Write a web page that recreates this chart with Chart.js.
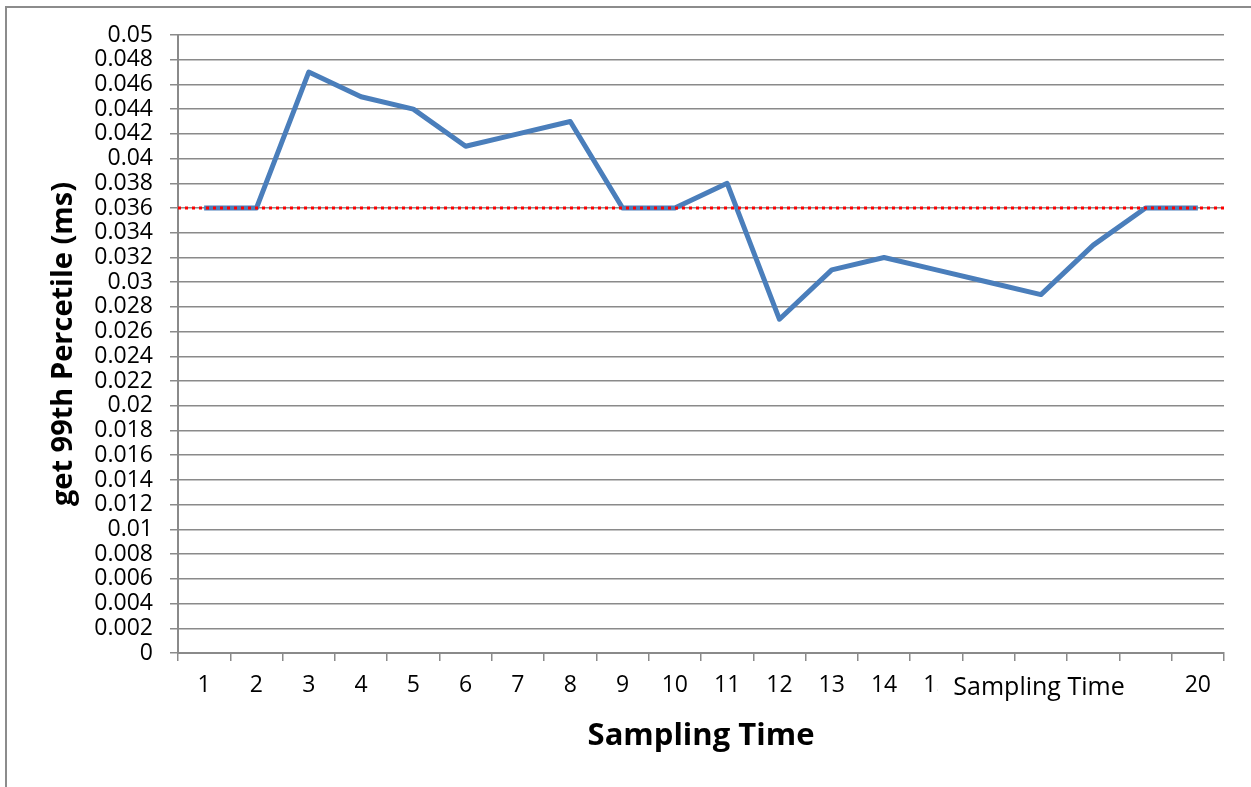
<!DOCTYPE html>
<html>
<head>
<meta charset="utf-8">
<script src="https://cdn.jsdelivr.net/npm/chart.js@4.4.0/dist/chart.umd.min.js"></script>
<style>
  html, body { margin: 0; padding: 0; background: #fff; overflow: hidden; }
  #frame { position: absolute; left: 5px; top: 6px; width: 1400px; height: 900px;
           border-left: 2px solid #8c8c8c; border-top: 2px solid #8c8c8c; }
  #chart { position: absolute; left: 0; top: 0; }
</style>
</head>
<body>
<div id="frame"></div>
<canvas id="chart" width="1251" height="787"></canvas>
<script>
// Sampling rounds and their 99th percentile get latency (ms)
const sampleLabels = ['1','2','3','4','5','6','7','8','9','10',
                      '11','12','13','14','15','16','17','18','19','20'];
const p99Values = [0.036, 0.036, 0.047, 0.045, 0.044, 0.041, 0.042, 0.043, 0.036, 0.036,
                   0.038, 0.027, 0.031, 0.032, 0.031, 0.030, 0.029, 0.033, 0.036, 0.036];
// Reference level drawn as a red dotted line
const thresholdMs = 0.036;
// Value axis range
const yMin = 0, yMax = 0.05, yStep = 0.002;
// Stray text box sitting over the category labels
const overlayText = 'Sampling Time';

const FONT = "'Open Sans', sans-serif";
const GRID = '#8a8a8a';

const thresholdPlugin = {
  id: 'thresholdLine',
  afterDatasetsDraw(chart) {
    const { ctx, chartArea, scales } = chart;
    const y = scales.y.getPixelForValue(thresholdMs);
    ctx.save();
    ctx.strokeStyle = '#ff0000';
    ctx.lineWidth = 3;
    ctx.setLineDash([3, 4]);
    ctx.beginPath();
    ctx.moveTo(chartArea.left, y);
    ctx.lineTo(chartArea.right + 4, y);
    ctx.stroke();
    ctx.restore();
  }
};

const overlayPlugin = {
  id: 'overlayBox',
  afterDraw(chart) {
    const { ctx, scales } = chart;
    const x = scales.x;
    const left = x.getPixelForValue(14) + 1;
    const right = x.getPixelForValue(18) + 20;
    const top = x.top + 11;
    ctx.save();
    ctx.fillStyle = '#ffffff';
    ctx.fillRect(left, top, right - left, 46);
    ctx.fillStyle = '#000000';
    ctx.font = '25px ' + FONT;
    ctx.textBaseline = 'middle';
    ctx.textAlign = 'left';
    ctx.fillText(overlayText, left + 16, top + 24);
    ctx.restore();
  }
};

new Chart(document.getElementById('chart'), {
  type: 'line',
  data: {
    labels: sampleLabels,
    datasets: [{
      data: p99Values,
      borderColor: '#4a7ebb',
      borderWidth: 5,
      pointRadius: 0,
      tension: 0,
      borderJoinStyle: 'round',
      borderCapStyle: 'butt'
    }]
  },
  options: {
    responsive: false,
    animation: false,
    events: [],
    layout: { padding: { left: 0, top: 35, right: 27, bottom: 0 } },
    plugins: { legend: { display: false }, tooltip: { enabled: false } },
    scales: {
      x: {
        type: 'category',
        offset: true,
        afterFit(s) { s.height = 134; },
        grid: { offset: true, drawOnChartArea: false, drawTicks: true, tickLength: 8,
                color: GRID, lineWidth: 1.5 },
        border: { color: GRID, width: 2 },
        ticks: { color: '#000', font: { family: FONT, size: 23 }, padding: 11,
                 maxRotation: 0, autoSkip: false },
        title: { display: true, text: 'Sampling Time', color: '#000',
                 font: { family: FONT, size: 31, weight: 'bold' },
                 padding: { top: 0, bottom: 32 } }
      },
      y: {
        min: yMin, max: yMax,
        afterFit(s) { s.width = 178; },
        afterBuildTicks(s) {
          const t = [];
          for (let i = 0; i <= Math.round((yMax - yMin) / yStep); i++) t.push({ value: yMin + i * yStep });
          s.ticks = t;
        },
        grid: { color: GRID, lineWidth: 1.5, tickLength: 8 },
        border: { color: GRID, width: 2 },
        ticks: { color: '#000', font: { family: FONT, size: 23 }, padding: 17,
                 autoSkip: false,
                 callback: v => String(Number(v.toFixed(3))) },
        title: { display: true, text: 'get 99th Percetile (ms)', color: '#000',
                 font: { family: FONT, size: 29, weight: 'bold' },
                 padding: { top: 46, bottom: 0 } }
      }
    }
  },
  plugins: [thresholdPlugin, overlayPlugin]
});
</script>
</body>
</html>
